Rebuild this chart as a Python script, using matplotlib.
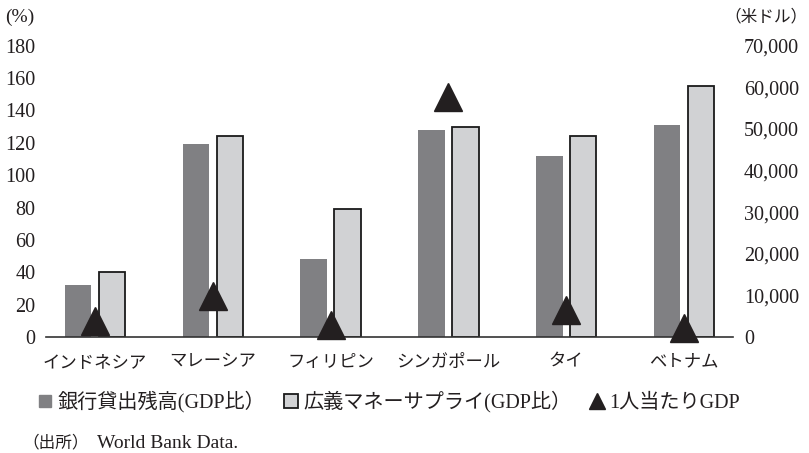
import matplotlib
matplotlib.use("Agg")
import matplotlib.pyplot as plt
from matplotlib.lines import Line2D
import numpy as np

# Data
categories = ["インドネシア", "マレーシア", "フィリピン", "シンガポール", "タイ", "ベトナム"]
bank_loans = [32, 119, 48, 128, 112, 131]          # 銀行貸出残高 (GDP比, %)
broad_money = [40, 124, 79, 130, 124, 155]         # 広義マネーサプライ (GDP比, %)
gdp_per_capita = [3800, 9900, 2900, 57700, 6500, 2300]  # 1人当たりGDP (米ドル)

left_ticks = list(range(0, 181, 20))
right_ticks = list(range(0, 70001, 10000))

series_labels = ["銀行貸出残高(GDP比）", "広義マネーサプライ(GDP比）", "1人当たりGDP"]

LATIN = "Liberation Serif"
CJK = "Noto Sans CJK JP"
plt.rcParams["font.family"] = [LATIN, CJK]

DARK = "#808083"
LIGHT = "#d1d2d4"
EDGE = "#1a1a1a"
MARK = "#231f20"
TEXT = "#231f20"

W, H = 809, 453
fig = plt.figure(figsize=(W / 100, H / 100), dpi=100)
ax = fig.add_axes([45.7 / W, 1 - 337.3 / H, (732.7 - 45.7) / W, (337.3 - 45.5) / H])

x = np.arange(len(categories))
bw = 0.225
off = 0.144
ax.bar(x - off, bank_loans, bw, color=DARK, zorder=2)
ax.bar(x + off, broad_money, bw, color=LIGHT, edgecolor=EDGE, linewidth=1.3, zorder=2)

ax.set_xlim(-0.4185, 5.413)
ax.set_ylim(0, 180)
ax.set_yticks(left_ticks)
ax.set_yticklabels([str(v) for v in left_ticks])
ax.set_xticks(x)
ax.set_xticklabels(categories, fontfamily=[CJK], fontsize=12.5, color=TEXT)
ax.tick_params(axis="y", length=0, pad=7.5, labelsize=14.5, labelcolor=TEXT)
ax.tick_params(axis="x", length=0, pad=11)
for s in ["top", "left", "right"]:
    ax.spines[s].set_visible(False)
ax.spines["bottom"].set_color("#333333")
ax.spines["bottom"].set_linewidth(1.2)

ax2 = ax.twinx()
ax2.plot(x, gdp_per_capita, linestyle="none", marker="^", markersize=19.5,
         color=MARK, zorder=5, clip_on=False)
ax2.set_ylim(0, 70000)
ax2.set_yticks(right_ticks)
ax2.set_yticklabels([f"{v:,}" for v in right_ticks])
ax2.tick_params(axis="y", length=0, pad=8, labelsize=14.5, labelcolor=TEXT)
for s in ax2.spines.values():
    s.set_visible(False)

# Axis unit labels
fig.text(5 / W, 1 - 17 / H, "(%)", fontsize=14, color=TEXT, ha="left", va="center")
fig.text(808 / W, 1 - 17 / H, "（米ドル）", fontsize=12, color=TEXT, ha="right", va="center",
         fontfamily=[CJK])

# Legend
handles = [
    Line2D([], [], linestyle="none", marker="s", markersize=9,
           markerfacecolor=DARK, markeredgecolor=DARK),
    Line2D([], [], linestyle="none", marker="s", markersize=10,
           markerfacecolor=LIGHT, markeredgecolor=EDGE, markeredgewidth=1.3),
    Line2D([], [], linestyle="none", marker="^", markersize=11, color=MARK),
]
fig.legend(handles, series_labels, ncol=3, loc="center left",
           bbox_to_anchor=(37 / W, 1 - 402 / H), frameon=False,
           fontsize=14.5, handlelength=0.75, handletextpad=0.25,
           columnspacing=0.9, borderaxespad=0, borderpad=0,
           labelcolor=TEXT)

# Source note
fig.text(22 / W, 1 - 443 / H, "（出所）", fontsize=12, color=TEXT, ha="left", va="center",
         fontfamily=[CJK])
fig.text(97 / W, 1 - 443 / H, "World Bank Data.", fontsize=14, color=TEXT,
         ha="left", va="center")

fig.savefig("out.png", dpi=100)
